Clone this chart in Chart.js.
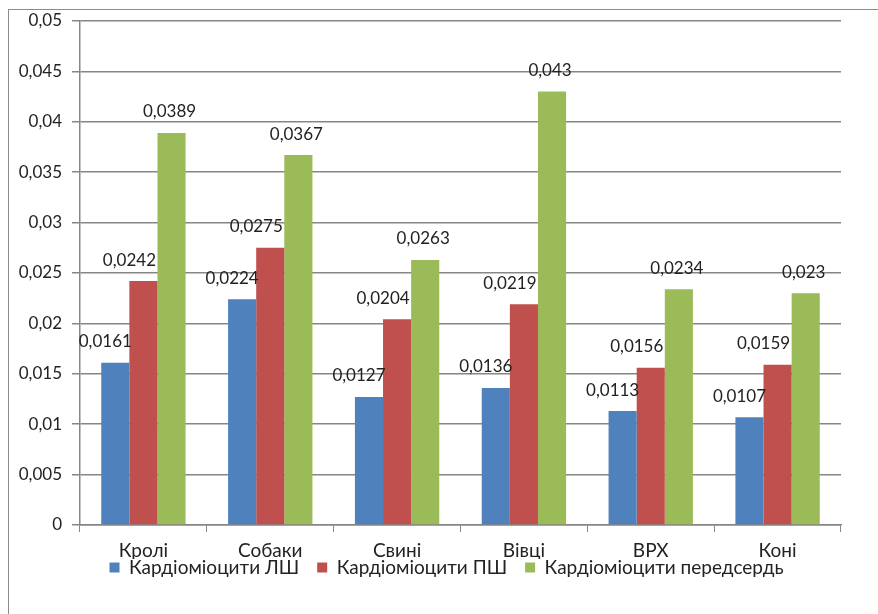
<!DOCTYPE html>
<html>
<head>
<meta charset="utf-8">
<script src="https://cdn.jsdelivr.net/npm/chart.js@4.4.1/dist/chart.umd.min.js"></script>
<style>
  html, body { margin: 0; padding: 0; background: #fff; overflow: hidden; }
  #frame { position: absolute; left: 8px; top: 9px; width: 900px; height: 700px;
           border-left: 1.5px solid #8c8c8c; border-top: 1.5px solid #8c8c8c; }
  #wrap { position: absolute; left: 0; top: 0; width: 878px; height: 614px; }
</style>
</head>
<body>
<div id="frame"></div>
<div id="wrap"><canvas id="c" width="878" height="614"></canvas></div>
<script>
const categories = ['Кролі', 'Собаки', 'Свині', 'Вівці', 'ВРХ', 'Коні'];
const seriesNames = ['Кардіоміоцити ЛШ', 'Кардіоміоцити ПШ', 'Кардіоміоцити передсердь'];
const lvValues = [0.0161, 0.0224, 0.0127, 0.0136, 0.0113, 0.0107];
const rvValues = [0.0242, 0.0275, 0.0204, 0.0219, 0.0156, 0.0159];
const atrialValues = [0.0389, 0.0367, 0.0263, 0.043, 0.0234, 0.023];
const yTicks = [0, 0.005, 0.01, 0.015, 0.02, 0.025, 0.03, 0.035, 0.04, 0.045, 0.05];

const FONT = 'Lato, "Open Sans", sans-serif';
const fmt = v => String(v).replace('.', ',');

const labelOffsets = [-10, -14, -2];

const dataLabels = {
  id: 'dataLabels',
  afterDatasetsDraw(chart) {
    const ctx = chart.ctx;
    ctx.save();
    ctx.font = '17px ' + FONT;
    ctx.fillStyle = '#222';
    ctx.textAlign = 'center';
    ctx.textBaseline = 'middle';
    chart.data.datasets.forEach((ds, i) => {
      const meta = chart.getDatasetMeta(i);
      meta.data.forEach((el, j) => {
        ctx.fillText(fmt(ds.data[j]), el.x + labelOffsets[i], el.y - 21);
      });
    });
    ctx.restore();
  }
};

// nudge the legend box up, closer to the category labels, and to the right
const legendShift = {
  id: 'legendShift',
  afterLayout(chart) {
    const lg = chart.legend;
    if (!lg) return;
    lg.top -= 19; lg.bottom -= 19;
    lg.left += 26; lg.right += 26;
  }
};

new Chart(document.getElementById('c'), {
  type: 'bar',
  data: {
    labels: categories,
    datasets: [
      { label: seriesNames[0], data: lvValues, backgroundColor: '#4F81BD' },
      { label: seriesNames[1], data: rvValues, backgroundColor: '#C0504D' },
      { label: seriesNames[2], data: atrialValues, backgroundColor: '#9BBB59' }
    ]
  },
  options: {
    responsive: false,
    animation: false,
    devicePixelRatio: 1,
    layout: { padding: { top: 21, right: 37, bottom: 8, left: 0 } },
    datasets: { bar: { categoryPercentage: 0.665, barPercentage: 1.0 } },
    plugins: {
      legend: {
        position: 'bottom',
        labels: {
          font: { family: FONT, size: 19 },
          color: '#222',
          boxWidth: 10, boxHeight: 10,
          padding: 18
        }
      },
      tooltip: { enabled: false }
    },
    scales: {
      x: {
        grid: { drawOnChartArea: false, color: '#868686', tickLength: 7 },
        border: { color: '#868686', width: 1.5 },
        ticks: { font: { family: FONT, size: 19 }, color: '#222', padding: 7 },
        afterFit(s) { s.height = 34; }
      },
      y: {
        min: 0, max: 0.05,
        afterBuildTicks(s) { s.ticks = yTicks.map(v => ({ value: v })); },
        grid: { color: '#868686', lineWidth: 1.5, tickLength: 8 },
        border: { color: '#868686', width: 1.5 },
        ticks: { font: { family: FONT, size: 17 }, color: '#222', padding: 10,
                 callback: v => fmt(v) },
        afterFit(s) { s.width = 80; }
      }
    }
  },
  plugins: [dataLabels, legendShift]
});
</script>
</body>
</html>
